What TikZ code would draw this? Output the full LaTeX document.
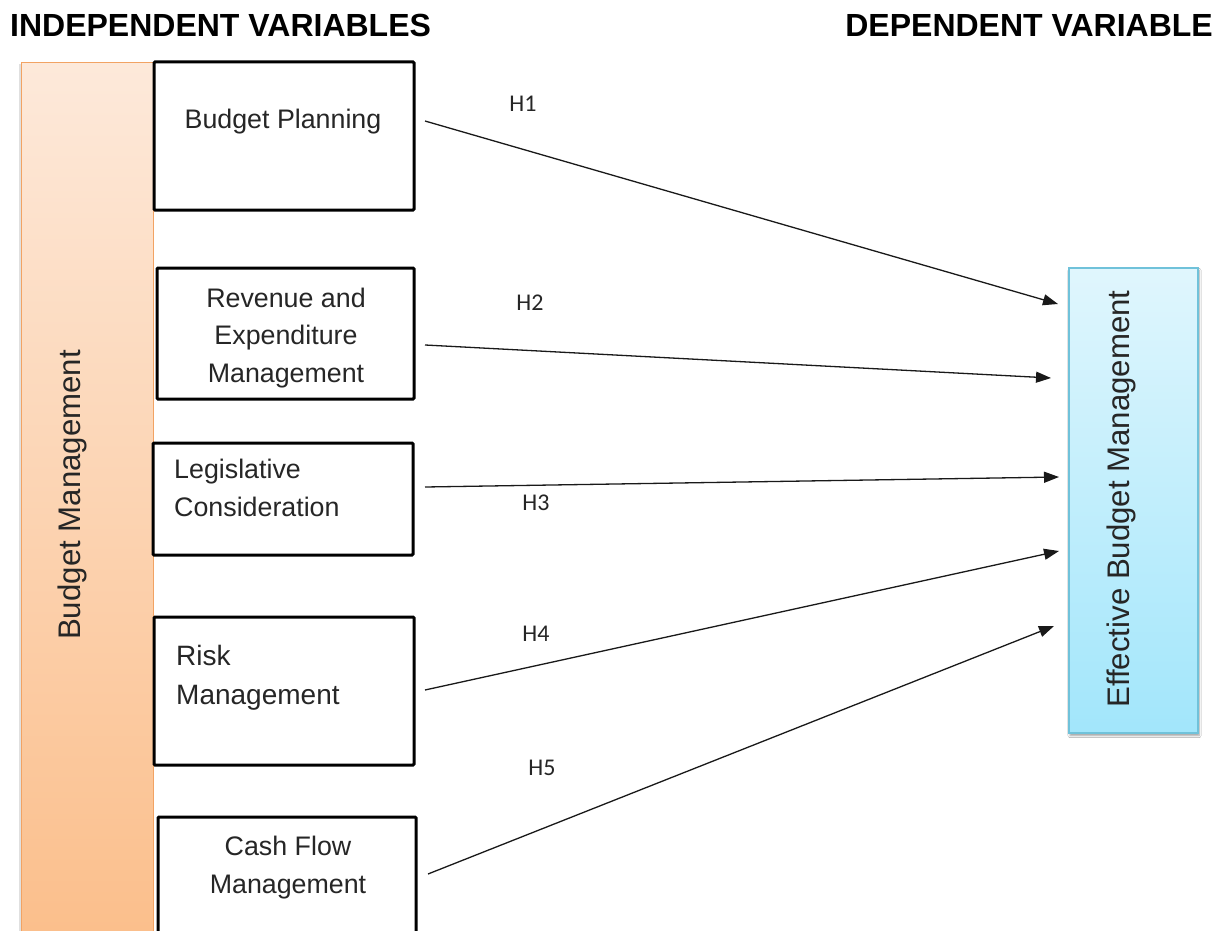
\documentclass[tikz,border=0pt]{standalone}
\usepackage{fontspec}
\setmainfont{Liberation Sans}
\newfontfamily\hfont{Carlito}
\usetikzlibrary{arrows.meta,shadows.blur}

\definecolor{barTop}{HTML}{FDE9DA}
\definecolor{barBottom}{HTML}{FBBE8A}
\definecolor{barEdge}{HTML}{F2A363}
\definecolor{effTop}{HTML}{E0F6FD}
\definecolor{effBottom}{HTML}{A2E6FB}
\definecolor{effEdge}{HTML}{70C2DA}

\tikzset{
  varbox/.style={draw=black, line width=3pt, rounded corners=1pt, fill=white, inner sep=0pt},
  boxtext/.style={font=\fontsize{26.8}{37.5}\selectfont, inner sep=0pt, text=black!85},
  hyp/.style={font=\hfont\fontsize{24}{24}\selectfont, inner sep=0pt, text=black!85},
  link/.style={line width=1.3pt, black!90, -{Triangle[length=15pt,width=11pt]}},
  heading/.style={font=\bfseries\fontsize{32}{32}\selectfont, inner sep=0pt},
  sidetext/.style={font=\fontsize{31.2}{31}\selectfont, inner sep=0pt, rotate=90, text=black!85},
}

\begin{document}
\begin{tikzpicture}[x=1pt,y=-1pt]
  \clip (0,0) rectangle (1226,931);
  \fill[white] (0,0) rectangle (1226,931);

  % headings
  \node[heading, anchor=base west] (indep) at (10,37) {INDEPENDENT VARIABLES};
  \node[heading, anchor=base east] (dep) at (1213,37) {DEPENDENT VARIABLE};

  % grouping bar for the independent variables, with a faint shade on its left
  \fill[black!12] (18.5,64) rectangle (21,940);
  \node[anchor=north west, minimum width=132, minimum height=890, inner sep=0pt,
        draw=barEdge, line width=1.2pt, top color=barTop, bottom color=barBottom]
        (bar) at (21,62) {};
  \node[sidetext] (barlabel) at (72,495) {Budget Management};

  % independent variable boxes
  \node[varbox, minimum width=260, minimum height=148] (bp) at (284,136) {};
  \node[varbox, minimum width=257, minimum height=131] (re) at (285.5,333.5) {};
  \node[varbox, minimum width=260, minimum height=112] (lc) at (283,499) {};
  \node[varbox, minimum width=260, minimum height=148] (rm) at (284,691) {};
  \node[varbox, minimum width=258, minimum height=123] (cf) at (287,878.5) {};

  % box captions (base anchor sits on the last line)
  \node[boxtext, anchor=base] (bpt) at (283,129) {Budget Planning};
  \node[boxtext, anchor=base, align=center] (ret) at (286,382) {Revenue and\\Expenditure\\Management};
  \node[boxtext, anchor=base west, align=left] (lct) at (174,516) {Legislative\\Consideration};
  \node[boxtext, anchor=base west, align=left, font=\fontsize{28}{39}\selectfont] (rmt) at (176,704) {Risk\\Management};
  \node[boxtext, anchor=base, align=center] (cft) at (288,893) {Cash Flow\\Management};

  % dependent variable
  \node[minimum width=129, minimum height=465, inner sep=0pt,
        draw=effEdge, line width=1.3pt, top color=effTop, bottom color=effBottom,
        blur shadow={shadow xshift=1pt, shadow yshift=-2.5pt, shadow blur steps=5, shadow opacity=40}]
        (ebm) at (1133.5,500.5) {};
  \node[sidetext] (ebmt) at (1121,499) {Effective Budget Management};

  % hypothesis links
  \coordinate (s1) at (425,121);  \coordinate (e1) at (1058,304);
  \coordinate (s2) at (425,345);  \coordinate (e2) at (1051,378);
  \coordinate (s3) at (425,487);  \coordinate (e3) at (1059,477);
  \coordinate (s4) at (425,690);  \coordinate (e4) at (1059,551);
  \coordinate (s5) at (428,874);  \coordinate (e5) at (1054,626);

  \draw[link] (s1) -- (e1);
  \draw[link] (s2) -- (e2);
  \draw[link] (s3) -- (e3);
  \draw[link] (s4) -- (e4);
  \draw[link] (s5) -- (e5);

  \node[hyp] (h1) at (523,104) {H1};
  \node[hyp] (h2) at (530,303) {H2};
  \node[hyp] (h3) at (536,503) {H3};
  \node[hyp] (h4) at (536,634) {H4};
  \node[hyp] (h5) at (542,768) {H5};
\end{tikzpicture}
\end{document}
